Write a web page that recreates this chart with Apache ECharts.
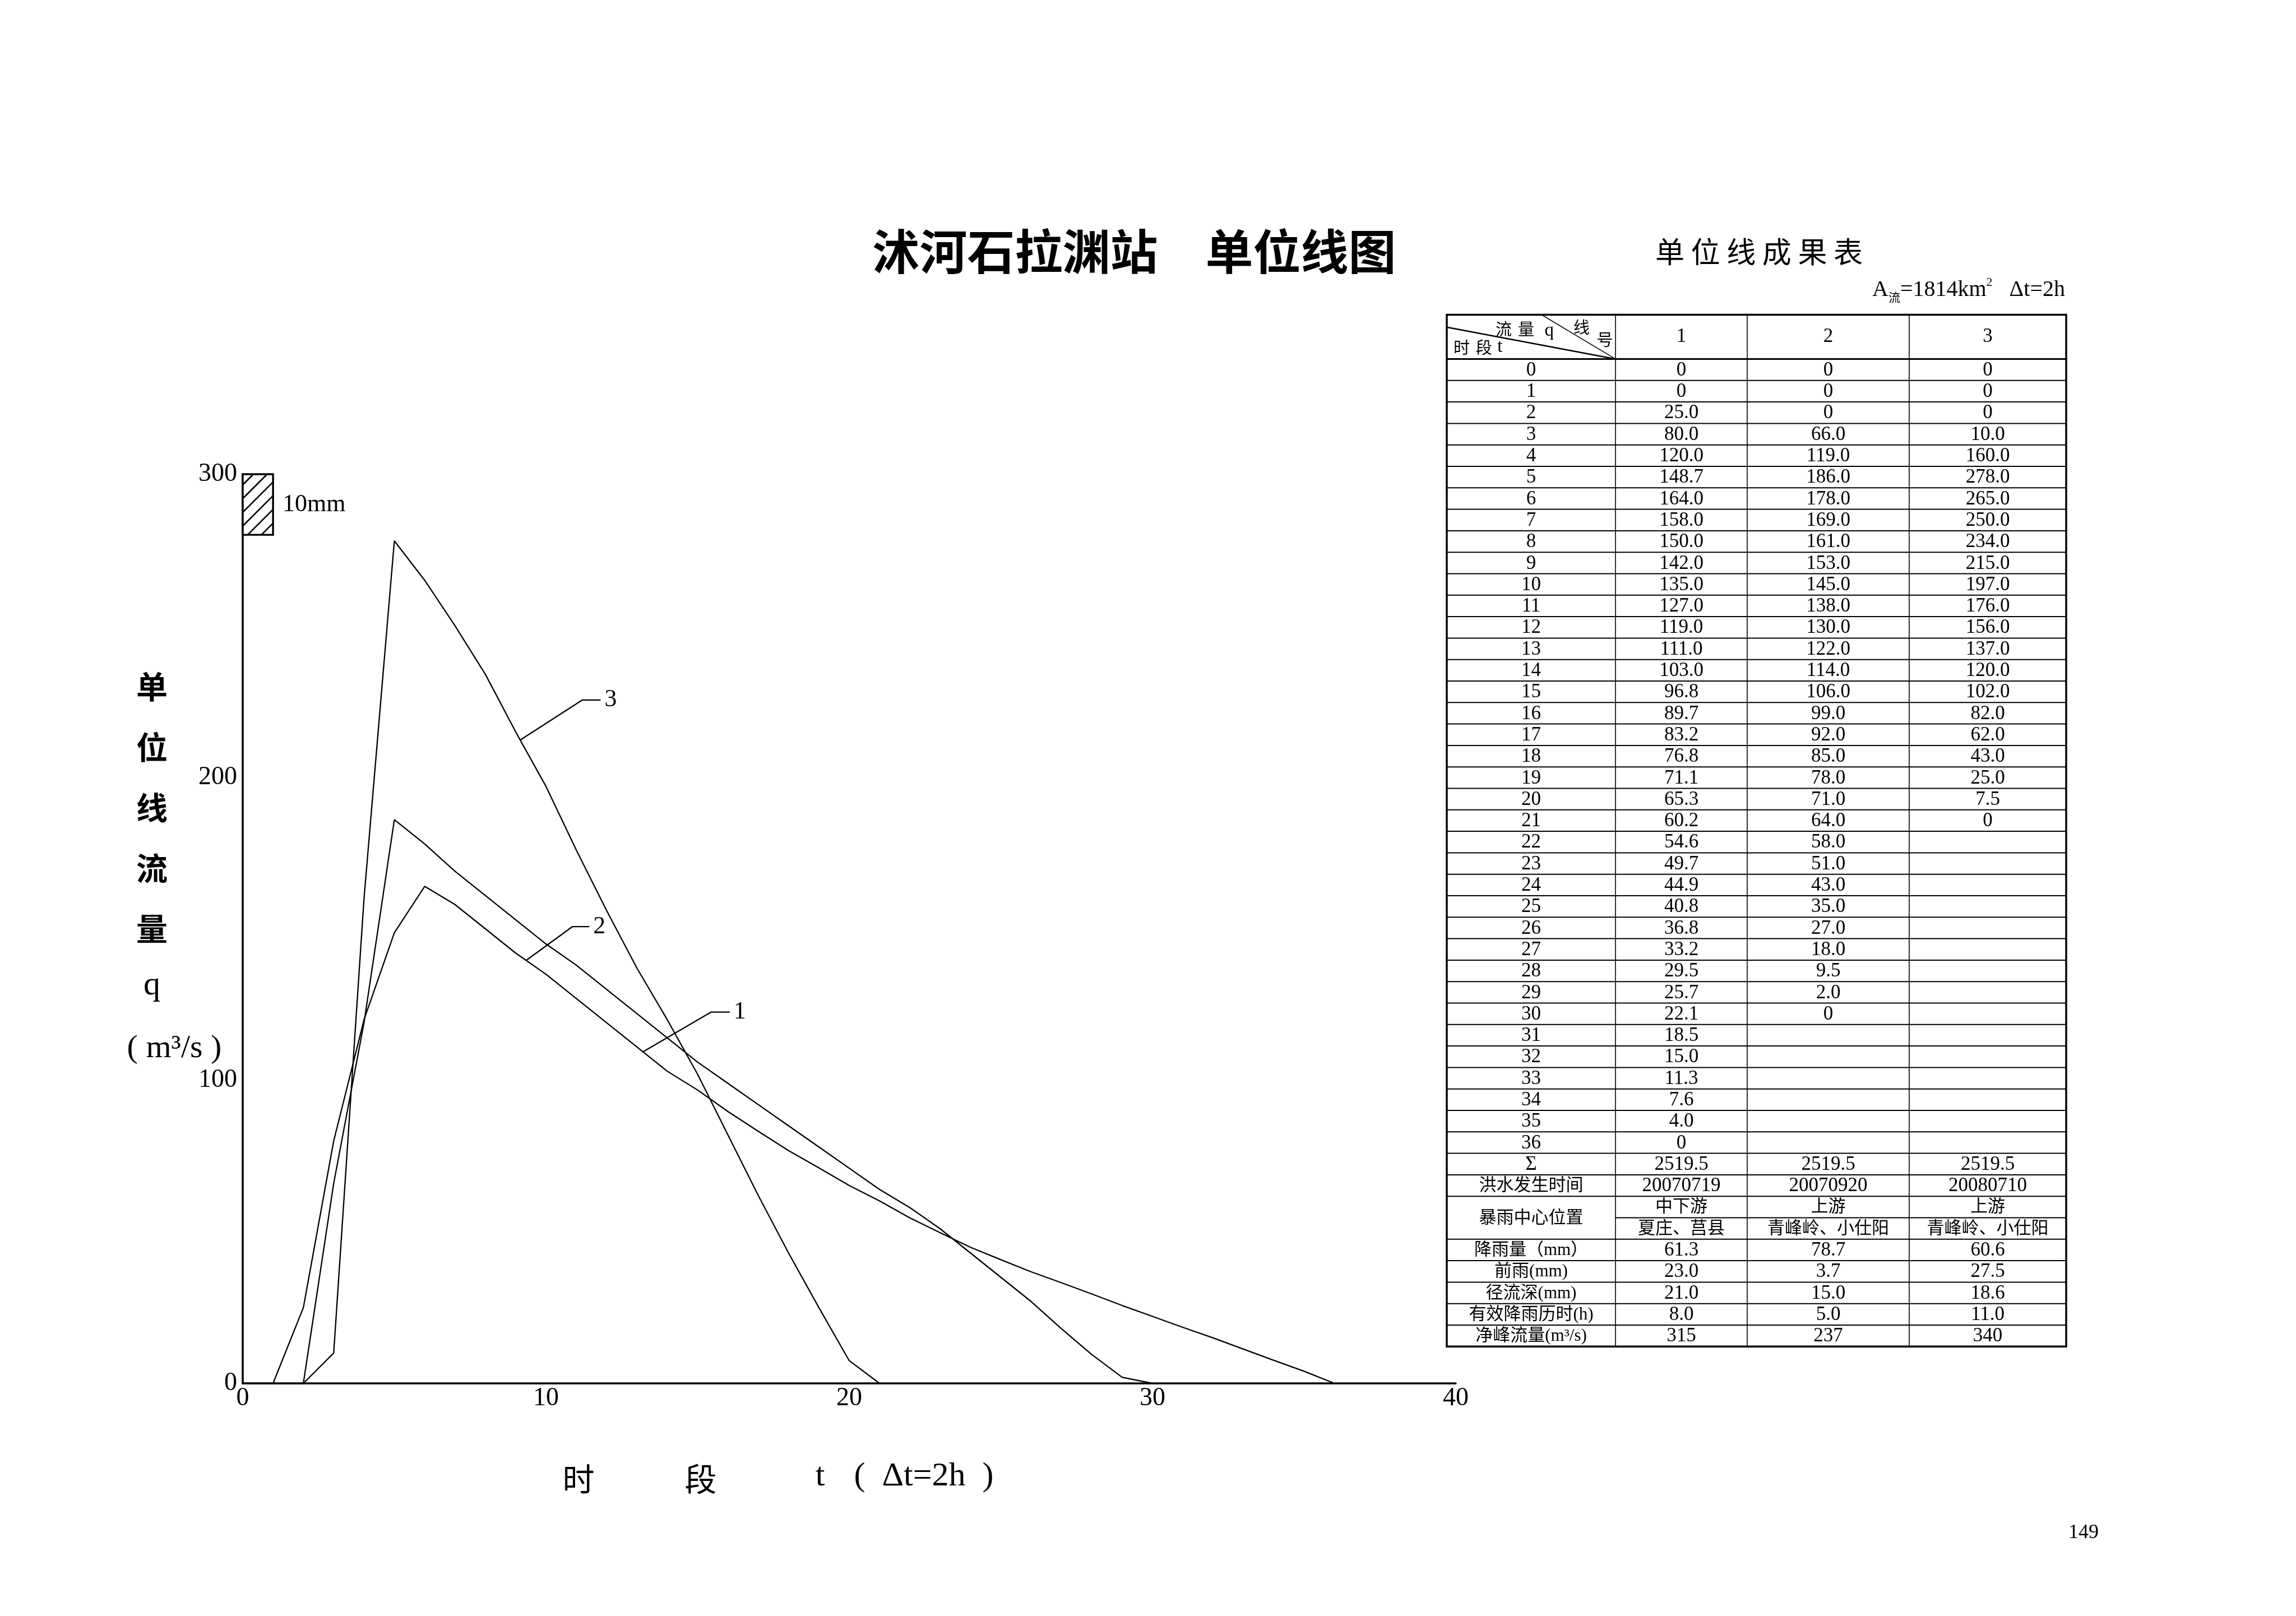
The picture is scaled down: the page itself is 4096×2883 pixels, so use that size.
<!DOCTYPE html>
<html>
<head>
<meta charset="utf-8">
<title>沭河石拉渊站 单位线图</title>
<script src="https://cdn.jsdelivr.net/npm/echarts@6.0.0/dist/echarts.min.js"></script>
<style>
html,body{margin:0;padding:0;background:#fff;}
#chart{width:4096px;height:2883px;}
</style>
</head>
<body>
<div id="chart"></div>
<script>
// ---------------- data ----------------
const PERIODS = [0,1,2,3,4,5,6,7,8,9,10,11,12,13,14,15,16,17,18,19,20,21,22,23,24,25,26,27,28,29,30,31,32,33,34,35,36];
const LINE_NAMES = ['1','2','3'];
const Q1 = [0,0,25.0,80.0,120.0,148.7,164.0,158.0,150.0,142.0,135.0,127.0,119.0,111.0,103.0,96.8,89.7,83.2,76.8,71.1,65.3,60.2,54.6,49.7,44.9,40.8,36.8,33.2,29.5,25.7,22.1,18.5,15.0,11.3,7.6,4.0,0];
const Q2 = [0,0,0,66.0,119.0,186.0,178.0,169.0,161.0,153.0,145.0,138.0,130.0,122.0,114.0,106.0,99.0,92.0,85.0,78.0,71.0,64.0,58.0,51.0,43.0,35.0,27.0,18.0,9.5,2.0,0];
const Q3 = [0,0,0,10.0,160.0,278.0,265.0,250.0,234.0,215.0,197.0,176.0,156.0,137.0,120.0,102.0,82.0,62.0,43.0,25.0,7.5,0];
const X_TICKS = [0,10,20,30,40];
const Y_TICKS = [0,100,200,300];
const SUMS = [2519.5,2519.5,2519.5];
const FLOOD_DATES = ['20070719','20070920','20080710'];
const STORM_REACH = ['中下游','上游','上游'];
const STORM_PLACE = ['夏庄、莒县','青峰岭、小仕阳','青峰岭、小仕阳'];
const RAINFALL = [61.3,78.7,60.6];
const ANTECEDENT = [23.0,3.7,27.5];
const RUNOFF_DEPTH = [21.0,15.0,18.6];
const RAIN_DURATION = [8.0,5.0,11.0];
const NET_PEAK = [315,237,340];
// 10 mm rainfall scale bar (t0, q0, t1, q1)
const RAIN_SCALE_BOX = [[0,280,1,300]];
// leader lines for curve labels (data coordinates)
const LEADER_1 = [[13.2,109.4],[15.44,122.5],[16.06,122.5]];
const LEADER_2 = [[9.35,139.6],[10.87,150.7],[11.43,150.7]];
const LEADER_3 = [[9.15,212.3],[11.2,225.5],[11.8,225.5]];

// ---------------- styles ----------------
const SERIF = '"Liberation Serif","Noto Sans CJK SC",serif';
const CJK = '"Noto Sans CJK SC",sans-serif';
const INK = '#000';

function fmt(v){ return v === 0 ? '0' : v.toFixed(1); }

function txt(text, x, y, size, family, extra){
  return {type:'text', x:x, y:y, silent:true, z:10,
    style:Object.assign({text:text, fill:INK, fontSize:size, fontFamily:family,
      align:'center', verticalAlign:'middle'}, extra||{})};
}
function seg(x1,y1,x2,y2,w){
  return {type:'line', silent:true, z:10, shape:{x1:x1,y1:y1,x2:x2,y2:y2},
    style:{stroke:INK, lineWidth:w, lineCap:'square'}};
}

// ---------------- table (graphic) ----------------
function buildTable(){
  const els = [];
  const X = [2581,2882,3117,3406,3686];
  const TOP = 561.5, HB = 640.5, RH = 38.3, NR = 46;
  const BOT = HB + NR*RH;
  const NUM = 35, CJ = 31;
  const cx = c => (X[c]+X[c+1])/2;
  const rowY = r => HB + r*RH + RH/2 + 1;

  els.push({type:'rect', silent:true, z:9, shape:{x:X[0],y:TOP,width:X[4]-X[0],height:BOT-TOP},
    style:{fill:'#fff', stroke:null}});
  for(let k=1;k<NR;k++){
    const y = HB + k*RH;
    els.push(seg(k===40?X[1]:X[0], y, X[4], y, 2));
  }
  for(let c=1;c<4;c++) els.push(seg(X[c], TOP, X[c], BOT, 1.6));
  els.push(seg(X[0], HB, X[4], HB, 3.2));
  els.push({type:'rect', silent:true, z:10, shape:{x:X[0],y:TOP,width:X[4]-X[0],height:BOT-TOP},
    style:{fill:null, stroke:INK, lineWidth:3.4}});

  // header cell
  els.push(seg(X[0], 583.7, X[1], HB, 2.4));
  els.push(seg(2750, TOP, X[1], HB, 1.6));
  els.push(txt('流', 2682.6, 587, 29, CJK));
  els.push(txt('量', 2722.4, 587, 29, CJK));
  els.push(txt('q', 2763.7, 590, 33, SERIF));
  els.push(txt('线', 2821.6, 584, 29, CJK));
  els.push(txt('号', 2863, 606, 29, CJK));
  els.push(txt('时', 2607.4, 620, 29, CJK));
  els.push(txt('段', 2647.2, 620, 29, CJK));
  els.push(txt('t', 2675.8, 619, 33, SERIF));
  for(let c=0;c<3;c++) els.push(txt(LINE_NAMES[c], cx(c+1), 601, NUM, SERIF));

  const series = [Q1,Q2,Q3];
  PERIODS.forEach((p,r)=>{
    els.push(txt(String(p), cx(0), rowY(r), NUM, SERIF));
    series.forEach((s,c)=>{ if(r < s.length) els.push(txt(fmt(s[r]), cx(c+1), rowY(r), NUM, SERIF)); });
  });
  let r = PERIODS.length;
  els.push(txt('Σ', cx(0), rowY(r), NUM, SERIF));
  SUMS.forEach((v,c)=>els.push(txt(v.toFixed(1), cx(c+1), rowY(r), NUM, SERIF)));
  r++;
  els.push(txt('洪水发生时间', cx(0), rowY(r), CJ, SERIF));
  FLOOD_DATES.forEach((v,c)=>els.push(txt(v, cx(c+1), rowY(r), NUM, SERIF)));
  r++;
  els.push(txt('暴雨中心位置', cx(0), HB + (r+1)*RH + 1, CJ, SERIF));
  STORM_REACH.forEach((v,c)=>els.push(txt(v, cx(c+1), rowY(r), CJ, SERIF)));
  r++;
  STORM_PLACE.forEach((v,c)=>els.push(txt(v, cx(c+1), rowY(r), CJ, SERIF)));
  r++;
  const rows = [
    ['降雨量（mm）', RAINFALL, fmt],
    ['前雨(mm)', ANTECEDENT, fmt],
    ['径流深(mm)', RUNOFF_DEPTH, fmt],
    ['有效降雨历时(h)', RAIN_DURATION, fmt],
    ['净峰流量(m³/s)', NET_PEAK, v=>String(v)]
  ];
  rows.forEach(([lab, arr, f])=>{
    els.push(txt(lab, cx(0), rowY(r), CJ, SERIF));
    arr.forEach((v,c)=>els.push(txt(f(v), cx(c+1), rowY(r), NUM, SERIF)));
    r++;
  });
  return els;
}

// ---------------- titles & axis names (graphic) ----------------
function buildTexts(){
  const els = [];
  els.push(txt('沭河石拉渊站　单位线图', 2023, 449, 85, CJK, {fontWeight:'bold'}));
  els.push(txt('单 位 线 成 果 表', 3138, 449, 52, CJK));
  els.push({type:'text', x:3684, y:517, silent:true, z:10, style:{
    text:'{a|A}{s|流}{a|=1814km}{p|2}{a|   Δt=2h}', align:'right', verticalAlign:'middle', fill:INK,
    rich:{
      a:{fontSize:40, fontFamily:SERIF, lineHeight:48, fill:INK},
      s:{fontSize:21, fontFamily:CJK, verticalAlign:'bottom', lineHeight:48, fill:INK},
      p:{fontSize:22, fontFamily:SERIF, verticalAlign:'top', lineHeight:48, fill:INK}
    }}});
  // y axis name
  const yChars = ['单','位','线','流','量'];
  const yPos = [1225,1333,1441,1549,1657];
  yChars.forEach((ch,i)=>els.push(txt(ch, 271, yPos[i], 56, CJK, {fontWeight:'bold'})));
  els.push(txt('q', 271, 1758, 60, SERIF));
  els.push(txt('( m³/s )', 311, 1871, 58, SERIF));
  // x axis name
  els.push(txt('时', 1032, 2638, 57, CJK));
  els.push(txt('段', 1250, 2638, 57, CJK));
  els.push(txt('t', 1463, 2634, 60, SERIF));
  els.push(txt('(  Δt=2h  )', 1648, 2634, 60, SERIF));
  // page number
  els.push(txt('149', 3717, 2735, 36, SERIF));
  return els;
}

// ---------------- chart ----------------
const chart = echarts.init(document.getElementById('chart'), null, {renderer:'canvas'});

const curveSeries = [Q1,Q2,Q3].map((q,i)=>({
  name:'单位线'+LINE_NAMES[i], type:'line', silent:true, symbol:'none',
  data:q.map((v,t)=>[PERIODS[t], v]),
  lineStyle:{color:INK, width:2.3}, z:3
}));
const leaderSeries = [[LEADER_1,'1'],[LEADER_2,'2'],[LEADER_3,'3']].map(([d,name])=>({
  name:'标注'+name, type:'line', silent:true, symbol:'none', data:d,
  lineStyle:{color:INK, width:2.3}, z:4,
  endLabel:{show:true, formatter:name, distance:7, color:INK, fontSize:44, fontFamily:SERIF}
}));
const scaleBox = {
  name:'10mm', type:'custom', silent:true, clip:false, z:5,
  data:RAIN_SCALE_BOX,
  renderItem:function(params, api){
    const tl = api.coord([api.value(0), api.value(3)]);
    const br = api.coord([api.value(2), api.value(1)]);
    const x0 = tl[0], y0 = tl[1], w = br[0]-tl[0], h = br[1]-tl[1];
    const children = [{type:'rect', shape:{x:x0,y:y0,width:w,height:h}, style:{fill:'#fff', stroke:null}}];
    for(let c=19; c<w+h; c+=24.5){
      const xa = Math.max(0, c-h), xb = Math.min(w, c);
      children.push({type:'line', shape:{x1:x0+xa, y1:y0+c-xa, x2:x0+xb, y2:y0+c-xb},
        style:{stroke:INK, lineWidth:2.6}});
    }
    children.push({type:'rect', shape:{x:x0,y:y0,width:w,height:h}, style:{fill:null, stroke:INK, lineWidth:3.4}});
    children.push({type:'text', x:x0+w+17, y:y0+h/2, style:{text:'10mm', fill:INK, fontSize:44,
      fontFamily:SERIF, align:'left', verticalAlign:'middle'}});
    return {type:'group', children:children};
  }
};

const axisFont = {color:INK, fontSize:46, fontFamily:SERIF};
const option = {
  animation:false,
  backgroundColor:'#fff',
  grid:{left:433, top:846, width:2164, height:1622, containLabel:false},
  xAxis:{
    type:'value', min:X_TICKS[0], max:X_TICKS[X_TICKS.length-1], interval:X_TICKS[1]-X_TICKS[0],
    axisLine:{show:true, onZero:false, lineStyle:{color:INK, width:3.6}},
    axisTick:{show:false}, splitLine:{show:false},
    axisLabel:Object.assign({margin:4}, axisFont)
  },
  yAxis:{
    type:'value', min:Y_TICKS[0], max:Y_TICKS[Y_TICKS.length-1], interval:Y_TICKS[1]-Y_TICKS[0],
    axisLine:{show:true, onZero:false, lineStyle:{color:INK, width:3.6}},
    axisTick:{show:false}, splitLine:{show:false},
    axisLabel:Object.assign({margin:10}, axisFont)
  },
  series:curveSeries.concat(leaderSeries, [scaleBox]),
  graphic:{elements:buildTexts().concat(buildTable())}
};
chart.setOption(option);
</script>
</body>
</html>
